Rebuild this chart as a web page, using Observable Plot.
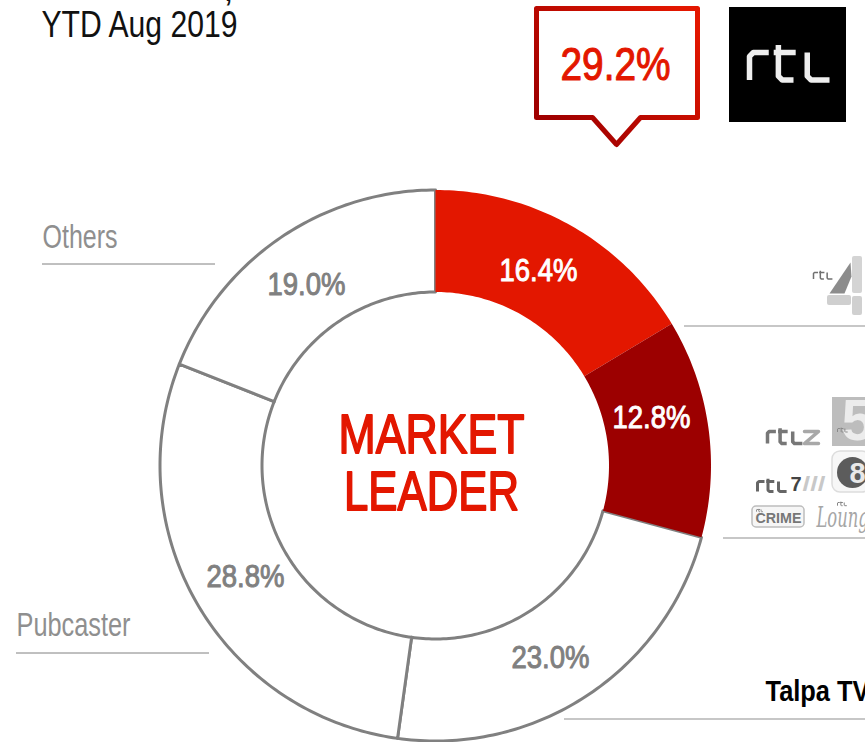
<!DOCTYPE html>
<html><head><meta charset="utf-8">
<script src="https://cdn.jsdelivr.net/npm/d3@7"></script>
<script src="https://cdn.jsdelivr.net/npm/@observablehq/plot@0.6"></script>
<style>html,body{margin:0;padding:0;background:#fff;overflow:hidden}svg{display:block}</style>
</head><body><div id="chart"></div>
<script>
// Data
const shareNames = ["RTL 4", "RTL others", "Talpa TV", "Pubcaster", "Others"];
const shareValues = [16.4, 12.8, 23.0, 28.8, 19.0];
const shareLabels = ["16.4%", "12.8%", "23.0%", "28.8%", "19.0%"];
const shareFills = ["#e31700", "#9c0000", "#ffffff", "#ffffff", "#ffffff"];
const shareStrokes = ["none", "none", "#808080", "#808080", "#808080"];
const labelColors = ["#ffffff", "#ffffff", "#808080", "#808080", "#808080"];
const labelOffsets = [[103, -195], [216, -48], [115, 192], [-190, 111], [-129, -181]];
const totalLabel = "29.2%";
const centerLines = ["MARKET", "LEADER"];

// Layout
const W = 865, H = 742, cx = 435, cy = 465, R = 275.5, r = 173.5;
const sans = "'Liberation Sans',sans-serif";

// Donut geometry derived from the shares
const total = d3.sum(shareValues);
let cum = 0;
const slices = shareValues.map((v, i) => {
  const a0 = cum / total * 2 * Math.PI; cum += v;
  const a1 = cum / total * 2 * Math.PI;
  const n = Math.max(4, Math.round((a1 - a0) * 60));
  const ring = [];
  for (let k = 0; k <= n; k++) { const a = a0 + (a1 - a0) * k / n; ring.push([cx + R * Math.sin(a), cy - R * Math.cos(a)]); }
  for (let k = n; k >= 0; k--) { const a = a0 + (a1 - a0) * k / n; ring.push([cx + r * Math.sin(a), cy - r * Math.cos(a)]); }
  return {i, ring};
});
const sliceMark = i => Plot.line(slices[i].ring, {x: d => d[0], y: d => d[1], curve: "linear-closed",
  fill: shareFills[i], stroke: shareStrokes[i], strokeWidth: 3, strokeLinejoin: "round"});

const rule = (x1, x2, y, stroke = "#b4b4b4", strokeWidth = 1.5) => Plot.ruleY([y], {x1, x2, stroke, strokeWidth});
// Text mark; tl squeezes the text to a given width, like the condensed face of the reference
const txt = (s, x, y, {tl, ...o} = {}) => Plot.text([s], {x: () => x, y: () => y, text: d => d, fontFamily: sans, lineAnchor: "middle", ...o,
  render(index, scales, values, dims, ctx, next) {
    const g = next(index, scales, values, dims, ctx);
    if (tl) g.querySelectorAll("text").forEach(t => { t.setAttribute("textLength", tl); t.setAttribute("lengthAdjust", "spacingAndGlyphs"); });
    return g;
  }});
const poly = (pts, o) => Plot.line(pts, {x: d => d[0], y: d => d[1], ...o});
const box = (x1, x2, y1, y2, o) => Plot.rect([0], {x1: () => x1, x2: () => x2, y1: () => y1, y2: () => y2, ...o});

// rtl wordmark as strokes in a unit box, placed by origin + scale
const rtlGlyph = [
  [[0, 1], [0, .14], [.14, 0], [.7, 0]],
  [[1.05, -.27], [1.05, .86], [1.19, 1], [1.6, 1]],
  [[.88, 0], [1.68, 0]],
  [[2.1, 0], [2.1, .86], [2.24, 1], [2.91, 1]]
];
const rtlMark = (x, y, s, stroke, strokeWidth) => rtlGlyph.map(g =>
  poly(g.map(p => [x + p[0] * s, y + p[1] * s]), {stroke, strokeWidth, strokeLinejoin: "round", strokeLinecap: "butt"}));

const callout = [[536, 8], [697, 8], [697, 117], [640, 117], [616, 144], [592, 117], [536, 117]];

const marks = [
  () => {
    const ns = "http://www.w3.org/2000/svg";
    const defs = document.createElementNS(ns, "defs");
    defs.innerHTML = `<linearGradient id="cg" gradientUnits="userSpaceOnUse" x1="560" y1="125" x2="680" y2="10">
      <stop offset="0" stop-color="#a00000"/><stop offset="1" stop-color="#e31700"/></linearGradient>`;
    return defs;
  },
  // Donut
  sliceMark(2), sliceMark(3), sliceMark(4), sliceMark(0), sliceMark(1),
  ...shareLabels.map((s, i) => txt(s, cx + labelOffsets[i][0], cy + labelOffsets[i][1],
    {fill: labelColors[i], stroke: labelColors[i], strokeWidth: 1, fontSize: 32, fontWeight: 400, tl: 78})),
  txt(centerLines[0], 431, 435, {fill: "#e31700", stroke: "#e31700", strokeWidth: 1.8, fontSize: 55, fontWeight: 400, tl: 186}),
  txt(centerLines[1], 431, 492, {fill: "#e31700", stroke: "#e31700", strokeWidth: 1.8, fontSize: 55, fontWeight: 400, tl: 175}),
  // Title fragment
  txt(",", 228, -11, {fill: "#111", fontSize: 36, textAnchor: "middle"}),
  txt("YTD Aug 2019", 41, 25, {fill: "#111", fontSize: 36, textAnchor: "start", tl: 196}),
  // Callout
  poly(callout, {curve: "linear-closed", fill: "#fff", stroke: "url(#cg)", strokeWidth: 5, strokeLinejoin: "round"}),
  txt(totalLabel, 615, 65, {fill: "#e31700", stroke: "#e31700", strokeWidth: 1.1, fontSize: 46, fontWeight: 400, tl: 110}),
  // rtl logo
  box(729, 846, 7, 122, {fill: "#000"}),
  ...rtlMark(749, 52, 27.5, "#eeeeee", 5.5),
  // Series labels and leader lines
  txt("Others", 42, 237, {fill: "#8f8f8f", fontSize: 34, textAnchor: "start", tl: 75}),
  rule(42, 215, 263.5, "#808080", 1),
  txt("Pubcaster", 16, 625, {fill: "#8f8f8f", fontSize: 34, textAnchor: "start", tl: 114}),
  rule(16, 209, 652.5, "#808080", 1),
  txt("Talpa TV", 765, 691, {fill: "#000", fontSize: 30, fontWeight: 700, textAnchor: "start", tl: 104}),
  rule(564, 865, 718.5),
  rule(684, 865, 325.5),
  rule(723, 865, 537.5),
  // RTL 4 logo
  ...rtlMark(813, 272, 6.5, "#707070", 1.5),
  poly([[829, 293], [850, 262], [851, 276], [844, 293]], {curve: "linear-closed", fill: "#8c8c8c", stroke: "none"}),
  box(852, 862, 256, 293, {fill: "#d4d4d4", rx: 2}),
  box(827, 851, 295, 305, {fill: "#cfcfcf", rx: 2}),
  box(852, 862, 296, 315, {fill: "#d0d0d0", rx: 2}),
  // RTL Z + 5
  ...rtlMark(767, 431, 12, "#777777", 3.5),
  poly([[804, 431], [818, 431], [804, 443], [818, 443]], {stroke: "#a8a8a8", strokeWidth: 3.5}),
  box(832, 865, 397, 446, {fill: "#bdbdbd"}),
  txt("5", 857, 421, {fontWeight: 700, fontSize: 58, fill: "#ececec"}),
  ...rtlMark(837, 428, 3.5, "#8a8a8a", 1),
  // RTL 7 + 8
  ...rtlMark(757, 481, 10, "#666666", 3),
  txt("7", 790, 484, {fontWeight: 700, fontSize: 20, fill: "#444", textAnchor: "start"}),
  txt("///", 802, 484, {fontWeight: 700, fontSize: 20, fill: "#c8c8c8", textAnchor: "start", tl: 23}),
  box(832, 870, 451, 492, {fill: "#f7f7f7", stroke: "#dddddd", strokeWidth: 1.5, rx: 8}),
  Plot.dot([0], {x: () => 852, y: () => 472, r: 15.5, fill: "#5c5c5c"}),
  txt("8", 857, 473, {fontWeight: 700, fontSize: 29, fill: "#e8e8e8"}),
  // RTL Crime + Lounge
  box(752, 804, 506, 527, {fill: "#f6f6f6", stroke: "#bdbdbd", strokeWidth: 1.5, rx: 4}),
  txt("CRIME", 778, 518, {fontWeight: 700, fontSize: 15, fill: "#777", tl: 46}),
  ...rtlMark(756, 509, 2.2, "#777777", 0.8),
  txt("Lounge", 816, 518, {fontFamily: "'DejaVu Serif',serif", fontStyle: "italic", fontSize: 27, fill: "#a6a6a6", textAnchor: "start", tl: 62}),
  ...rtlMark(837, 502, 3.2, "#777777", 0.9)
];

const plot = Plot.plot({
  width: W, height: H, margin: 0,
  x: {domain: [0, W], range: [0, W], axis: null},
  y: {domain: [0, H], range: [0, H], axis: null},
  style: {background: "#fff", overflow: "hidden"},
  marks
});
document.getElementById("chart").append(plot);
</script></body></html>
